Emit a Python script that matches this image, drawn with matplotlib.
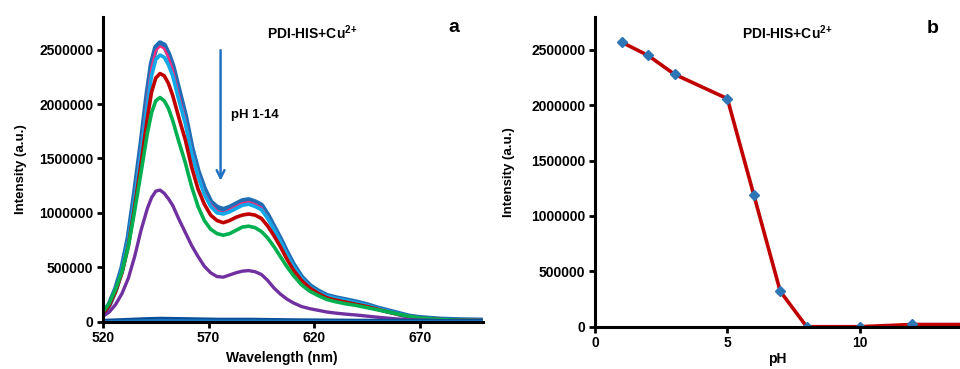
import matplotlib
matplotlib.use("Agg")
import matplotlib.pyplot as plt

plt.rcParams['font.family'] = ['Liberation Sans', 'DejaVu Sans']
plt.rcParams['font.weight'] = 'bold'
plt.rcParams['mathtext.fontset'] = 'custom'
plt.rcParams['mathtext.rm'] = 'Liberation Sans:bold'
plt.rcParams['mathtext.bf'] = 'Liberation Sans:bold'

# ---- panel a: emission spectra (intensity in millions) ----
wl = [520, 523, 526, 529, 532, 535, 538, 541, 543, 545, 547, 549, 551, 553, 556, 559, 562,
      565, 568, 571, 574, 577, 580, 583, 586, 589, 592, 595, 598, 601, 604, 607,
      610, 614, 618, 622, 626, 630, 635, 640, 645, 650, 655, 660, 665, 670, 680,
      690, 700]

ph1 = [0.07, 0.16, 0.30, 0.49, 0.77, 1.18, 1.62, 2.10, 2.37, 2.52, 2.56, 2.54, 2.46, 2.35, 2.12, 1.89, 1.60,
       1.38, 1.22, 1.10, 1.05, 1.03, 1.05, 1.08, 1.11, 1.12, 1.10, 1.07, 0.98, 0.87, 0.76, 0.64,
       0.53, 0.41, 0.33, 0.28, 0.24, 0.22, 0.20, 0.18, 0.155, 0.125, 0.10, 0.075, 0.05, 0.037, 0.022,
       0.016, 0.013]
ph2 = [0.07, 0.16, 0.30, 0.49, 0.76, 1.16, 1.60, 2.07, 2.34, 2.49, 2.53, 2.51, 2.43, 2.32, 2.08, 1.86, 1.58,
       1.36, 1.19, 1.08, 1.02, 1.00, 1.03, 1.06, 1.09, 1.10, 1.08, 1.05, 0.96, 0.86, 0.75, 0.63,
       0.52, 0.40, 0.32, 0.275, 0.235, 0.215, 0.195, 0.175, 0.15, 0.122, 0.098, 0.073, 0.049, 0.036, 0.021,
       0.015, 0.012]
ph3 = [0.07, 0.16, 0.29, 0.48, 0.75, 1.13, 1.55, 2.00, 2.26, 2.41, 2.45, 2.43, 2.36, 2.26, 2.03, 1.82, 1.55,
       1.34, 1.17, 1.06, 1.00, 0.99, 1.01, 1.04, 1.07, 1.08, 1.06, 1.03, 0.95, 0.85, 0.74, 0.62,
       0.515, 0.40, 0.32, 0.27, 0.235, 0.215, 0.195, 0.175, 0.15, 0.122, 0.098, 0.073, 0.049, 0.036, 0.021,
       0.015, 0.012]
ph4 = [0.07, 0.15, 0.28, 0.45, 0.70, 1.06, 1.45, 1.87, 2.11, 2.24, 2.28, 2.26, 2.19, 2.08, 1.87, 1.67, 1.42,
       1.22, 1.08, 0.98, 0.93, 0.91, 0.93, 0.96, 0.98, 0.99, 0.98, 0.95, 0.88, 0.79, 0.69, 0.58,
       0.48, 0.38, 0.31, 0.26, 0.22, 0.20, 0.18, 0.16, 0.14, 0.115, 0.09, 0.068, 0.048, 0.033, 0.02,
       0.014, 0.012]
ph5 = [0.09, 0.17, 0.30, 0.46, 0.69, 1.02, 1.37, 1.73, 1.92, 2.03, 2.06, 2.03, 1.96, 1.85, 1.65, 1.46, 1.24,
       1.06, 0.93, 0.85, 0.81, 0.795, 0.81, 0.84, 0.87, 0.878, 0.865, 0.83, 0.77, 0.69, 0.60, 0.51,
       0.43, 0.34, 0.28, 0.24, 0.205, 0.185, 0.165, 0.15, 0.13, 0.11, 0.09, 0.07, 0.05, 0.035, 0.02,
       0.013, 0.01]
ph6 = [0.05, 0.09, 0.16, 0.26, 0.40, 0.60, 0.84, 1.04, 1.14, 1.20, 1.21, 1.18, 1.13, 1.07, 0.94, 0.82, 0.70,
       0.60, 0.51, 0.45, 0.415, 0.41, 0.43, 0.45, 0.465, 0.47, 0.46, 0.435, 0.38, 0.31, 0.255, 0.21,
       0.175, 0.14, 0.12, 0.105, 0.09, 0.08, 0.07, 0.062, 0.052, 0.042, 0.033, 0.025, 0.019, 0.015, 0.01,
       0.007, 0.006]

wl_low = [520, 530, 540, 547, 560, 575, 590, 610, 640, 670, 700]
ph_high = [0.005, 0.012, 0.02, 0.024, 0.02, 0.015, 0.015, 0.01, 0.006, 0.004, 0.003]

# ---- panel b: peak intensity vs pH ----
ph = [1, 2, 3, 5, 6, 7, 8, 10, 12, 14]
peak = [2570000, 2450000, 2280000, 2060000, 1190000, 320000, 0, 0, 20000, 20000]

fig = plt.figure(figsize=(9.6, 3.69), dpi=100)
ax1 = fig.add_axes([0.1073, 0.128, 0.3958, 0.826])
ax2 = fig.add_axes([0.620, 0.1146, 0.380, 0.8401])

M = 1e6
style = dict(solid_joinstyle='round', solid_capstyle='round')
ax1.plot(wl, [v * M for v in ph1], color='#1f6db5', lw=4.0, **style)
ax1.plot(wl, [v * M for v in ph2], color='#ff2a7f', lw=1.6, **style)
ax1.plot(wl, [v * M for v in ph3], color='#10a8e8', lw=2.6, **style)
ax1.plot(wl, [v * M for v in ph4], color='#c00000', lw=2.6, **style)
ax1.plot(wl, [v * M for v in ph5], color='#00b050', lw=2.6, **style)
ax1.plot(wl, [v * M for v in ph6], color='#7030a0', lw=2.4, **style)
ax1.plot(wl_low, [v * M for v in ph_high], color='#0a4f96', lw=3.5, **style)
ax1.plot(wl_low, [v * M * 0.5 for v in ph_high], color='#1a78c8', lw=2.0, **style)

ax1.set_xlim(520, 700)
ax1.set_ylim(0, 2800000)
ax1.set_xticks([520, 570, 620, 670])
ax1.set_yticks(range(0, 2500001, 500000))
ax1.set_xlabel('Wavelength (nm)', fontsize=10, fontweight='bold')
ax1.xaxis.set_label_coords(0.47, -0.095)
ax1.set_ylabel('Intensity (a.u.)', fontsize=9.5, fontweight='bold', labelpad=9)

ax1.annotate('', xy=(575.7, 1270000), xytext=(575.7, 2520000),
             arrowprops=dict(arrowstyle='->', color='#2272c3', lw=1.8, mutation_scale=14))
ax1.text(580.4, 1900000, 'pH 1-14', fontsize=9.5, fontweight='bold', va='center', ha='left')
ax1.text(0.551, 0.947, r'PDI-HIS+Cu$^{2{+}}$', transform=ax1.transAxes,
         fontsize=10, fontweight='bold', ha='center', va='center')
ax1.text(0.924, 0.964, 'a', transform=ax1.transAxes, fontsize=14, fontweight='bold',
         ha='center', va='center')

ax2.plot(ph, peak, color='#c00000', lw=2.6, marker='D', markersize=5.5,
         markerfacecolor='#2e75b6', markeredgecolor='#2e75b6', **style)
ax2.set_xlim(0, 13.8)
ax2.set_ylim(0, 2800000)
ax2.set_xticks([0, 5, 10])
ax2.set_yticks(range(0, 2500001, 500000))
ax2.set_xlabel('pH', fontsize=10, fontweight='bold', labelpad=1)
ax2.set_ylabel('Intensity (a.u.)', fontsize=9.5, fontweight='bold', labelpad=12)
ax2.text(0.525, 0.947, r'PDI-HIS+Cu$^{2{+}}$', transform=ax2.transAxes,
         fontsize=10, fontweight='bold', ha='center', va='center')
ax2.text(0.926, 0.963, 'b', transform=ax2.transAxes, fontsize=14, fontweight='bold',
         ha='center', va='center')

for ax in (ax1, ax2):
    ax.spines['top'].set_visible(False)
    ax.spines['right'].set_visible(False)
    ax.spines['left'].set_linewidth(2.2)
    ax.spines['bottom'].set_linewidth(2.2)
    ax.ticklabel_format(axis='y', style='plain', useOffset=False)
    ax.tick_params(axis='both', direction='out', length=4, width=2, labelsize=10, pad=3)
    ax.set_facecolor('none')
    for lab in ax.get_xticklabels() + ax.get_yticklabels():
        lab.set_fontweight('bold')

fig.savefig('out.png', dpi=100)
